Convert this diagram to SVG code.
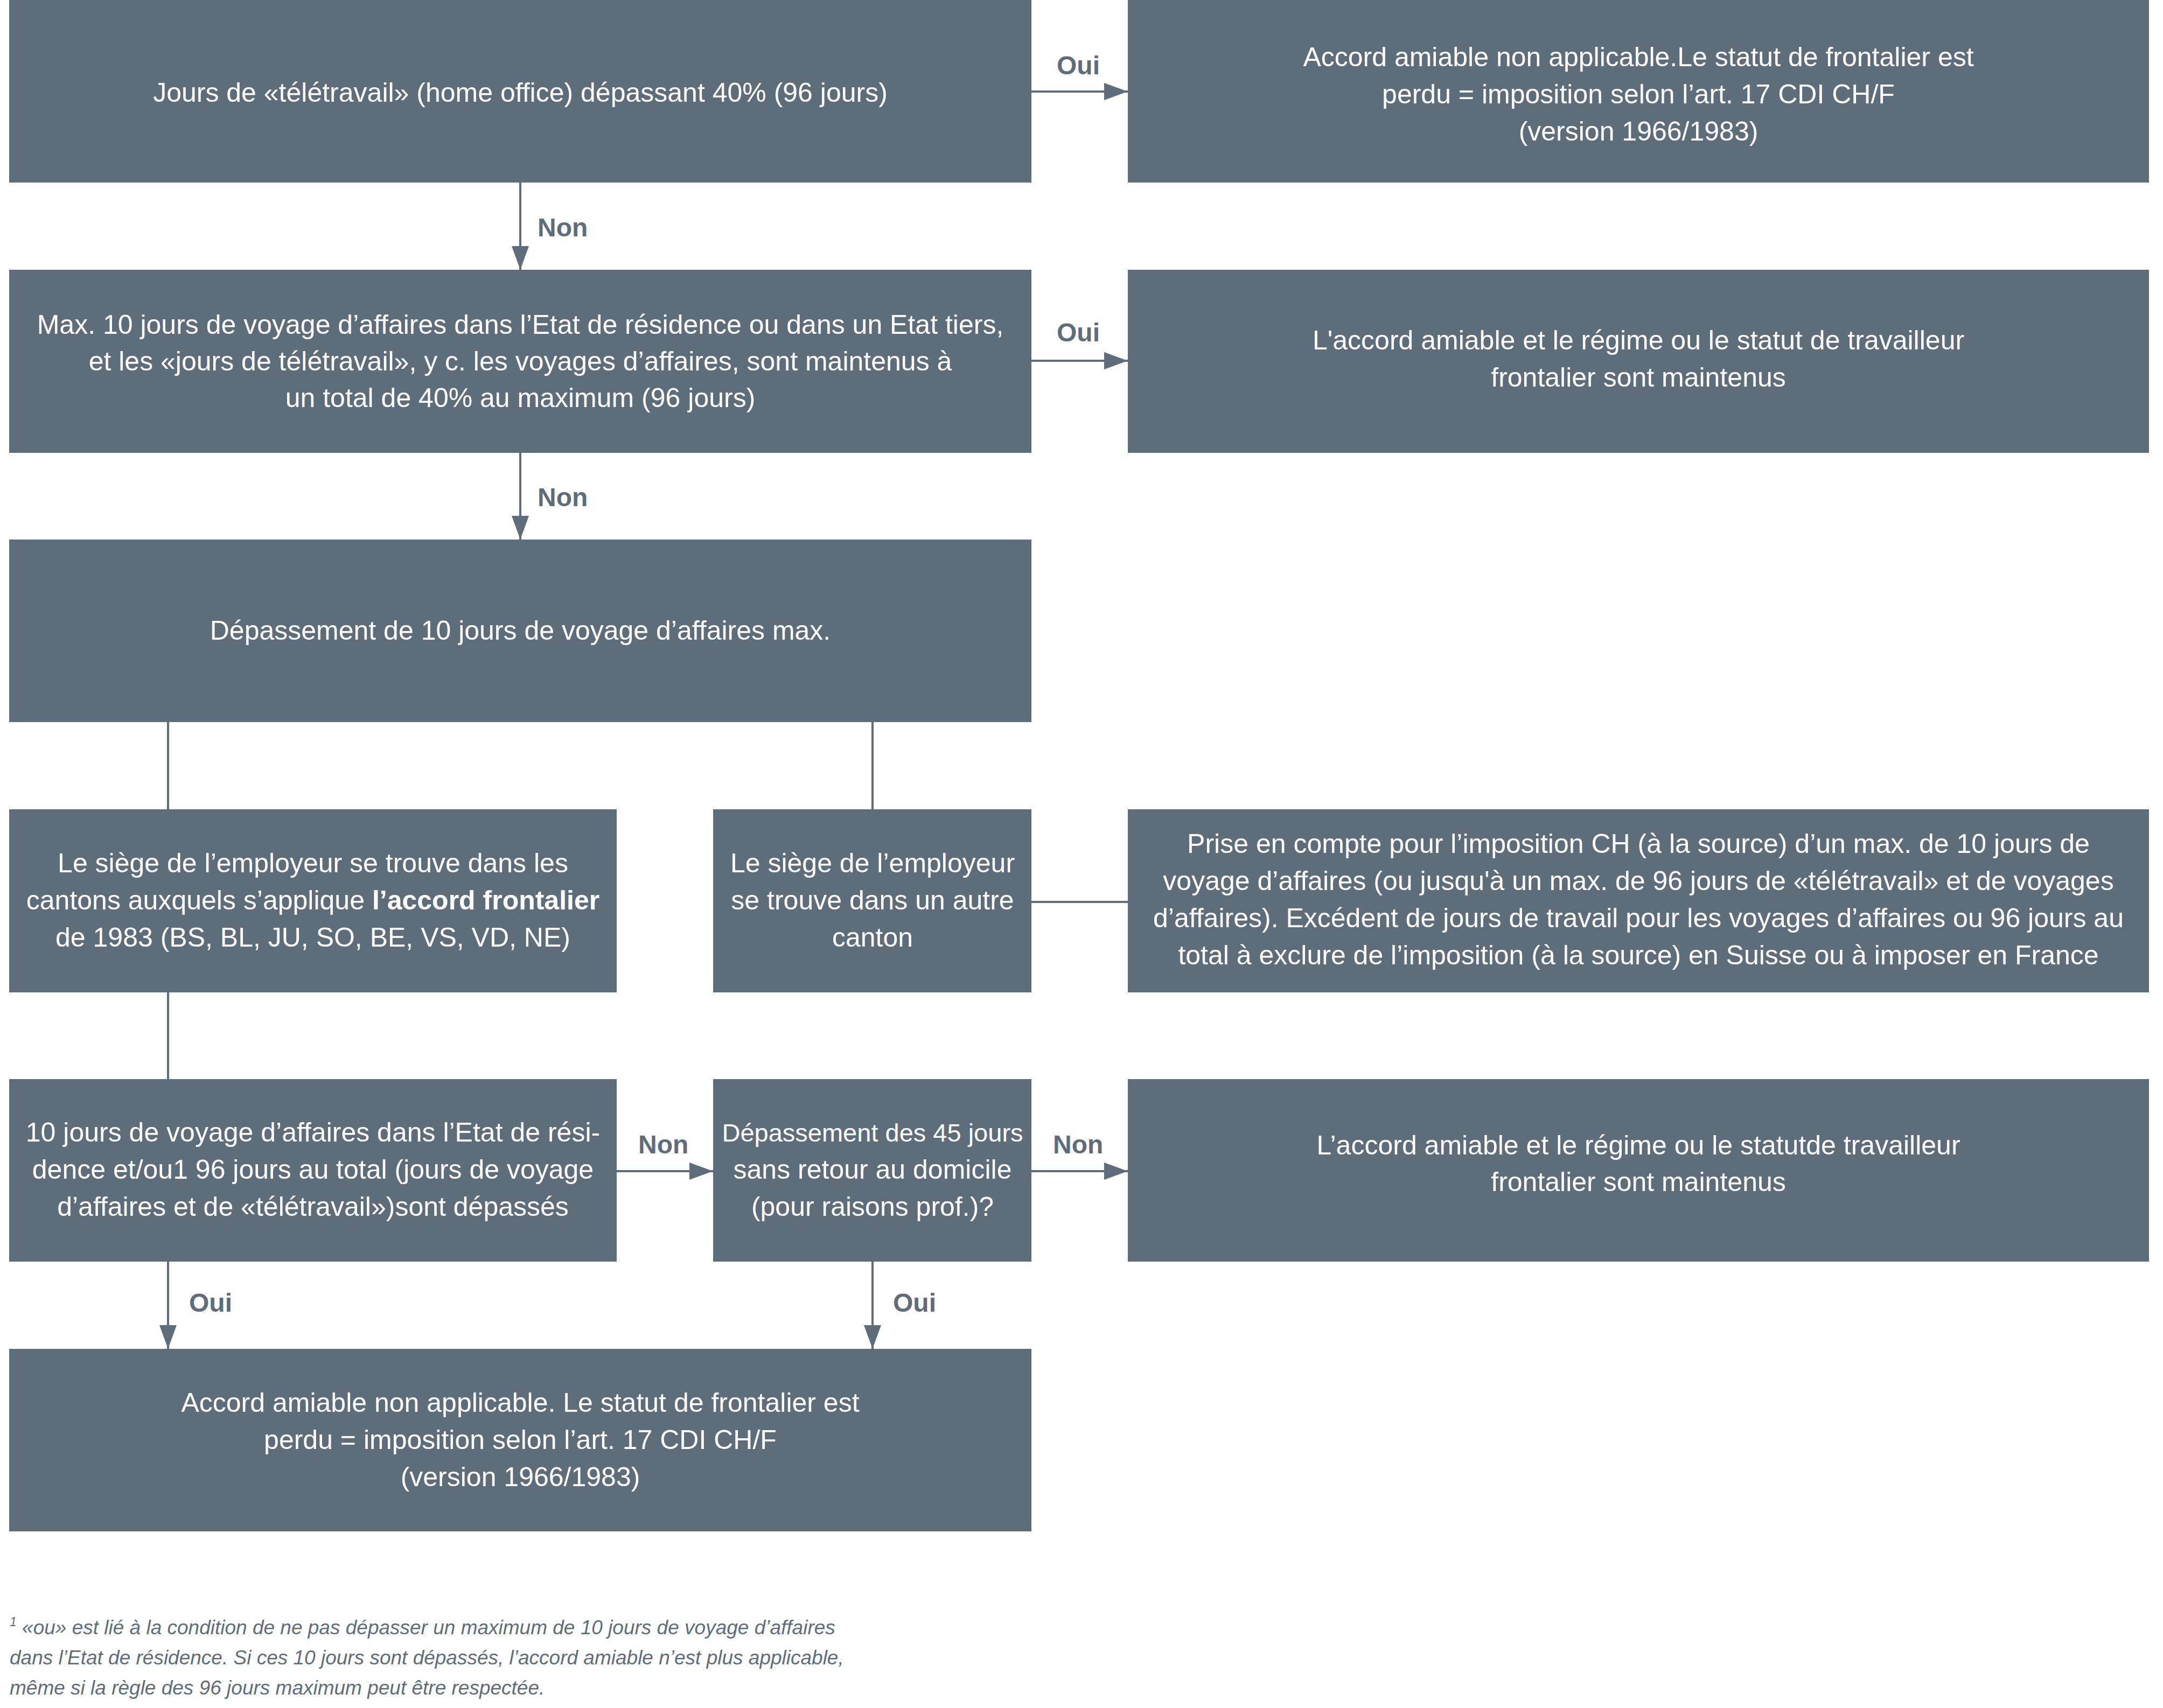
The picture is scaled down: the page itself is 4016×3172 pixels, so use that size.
<svg xmlns="http://www.w3.org/2000/svg" width="4016" height="3172" viewBox="0 0 4016 3172">
<style>
.box{fill:#5E6D7A}
.t{font-family:"Liberation Sans",Arial,sans-serif;font-size:50px;fill:#FFFFFF;text-anchor:middle}
.lbl{font-family:"Liberation Sans",Arial,sans-serif;font-size:48px;font-weight:bold;fill:#5E6D7A}
.ln{stroke:#5E6D7A;stroke-width:4;fill:none}
.fn{font-family:"Liberation Sans",Arial,sans-serif;font-size:37px;font-style:italic;fill:#5E6D7A}
</style>
<defs>
<marker id="ah" markerUnits="userSpaceOnUse" markerWidth="46" markerHeight="32" refX="44" refY="16" orient="auto">
<path d="M0,0 L44,16 L0,32 z" fill="#5E6D7A"/>
</marker>
</defs>
<rect width="4016" height="3172" fill="#FFFFFF"/>
<g id="connectors">
<line class="ln" x1="1915" y1="170" x2="2094" y2="170" marker-end="url(#ah)"/>
<line class="ln" x1="966" y1="339" x2="966" y2="501" marker-end="url(#ah)"/>
<line class="ln" x1="1915" y1="670" x2="2094" y2="670" marker-end="url(#ah)"/>
<line class="ln" x1="966" y1="841" x2="966" y2="1002" marker-end="url(#ah)"/>
<line class="ln" x1="312" y1="1341" x2="312" y2="1503"/>
<line class="ln" x1="1620" y1="1341" x2="1620" y2="1503"/>
<line class="ln" x1="1915" y1="1675" x2="2094" y2="1675"/>
<line class="ln" x1="312" y1="1843" x2="312" y2="2004"/>
<line class="ln" x1="1145" y1="2175" x2="1324" y2="2175" marker-end="url(#ah)"/>
<line class="ln" x1="1915" y1="2175" x2="2094" y2="2175" marker-end="url(#ah)"/>
<line class="ln" x1="312" y1="2343" x2="312" y2="2505" marker-end="url(#ah)"/>
<line class="ln" x1="1620" y1="2343" x2="1620" y2="2505" marker-end="url(#ah)"/>
<text class="lbl" x="1962" y="138">Oui</text>
<text class="lbl" x="998" y="439">Non</text>
<text class="lbl" x="1962" y="634">Oui</text>
<text class="lbl" x="998" y="940">Non</text>
<text class="lbl" x="1185" y="2142">Non</text>
<text class="lbl" x="1955" y="2142">Non</text>
<text class="lbl" x="351" y="2436">Oui</text>
<text class="lbl" x="1658" y="2436">Oui</text>
</g>
<g id="n1">
<rect class="box" x="17" y="0" width="1898" height="339"/>
<text class="t" x="966" y="189">Jours de «télétravail» (home office) dépassant 40% (96 jours)</text>
</g>
<g id="n2">
<rect class="box" x="2094" y="0" width="1896" height="339"/>
<text class="t" x="3042" y="123">Accord amiable non applicable.Le statut de frontalier est</text>
<text class="t" x="3042" y="192">perdu = imposition selon l’art. 17 CDI CH/F</text>
<text class="t" x="3042" y="261">(version 1966/1983)</text>
</g>
<g id="n3">
<rect class="box" x="17" y="501" width="1898" height="340"/>
<text class="t" x="966" y="620">Max. 10 jours de voyage d’affaires dans l’Etat de résidence ou dans un Etat tiers,</text>
<text class="t" x="966" y="688">et les «jours de télétravail», y c. les voyages d’affaires, sont maintenus à</text>
<text class="t" x="966" y="756">un total de 40% au maximum (96 jours)</text>
</g>
<g id="n4">
<rect class="box" x="2094" y="501" width="1896" height="340"/>
<text class="t" x="3042" y="649">L'accord amiable et le régime ou le statut de travailleur</text>
<text class="t" x="3042" y="718">frontalier sont maintenus</text>
</g>
<g id="n5">
<rect class="box" x="17" y="1002" width="1898" height="339"/>
<text class="t" x="966" y="1188">Dépassement de 10 jours de voyage d’affaires max.</text>
</g>
<g id="n6">
<rect class="box" x="17" y="1503" width="1128" height="340"/>
<text class="t" x="581" y="1620">Le siège de l’employeur se trouve dans les</text>
<text class="t" x="581" y="1689">cantons auxquels s’applique <tspan font-weight="bold">l’accord frontalier</tspan></text>
<text class="t" x="581" y="1758">de 1983 (BS, BL, JU, SO, BE, VS, VD, NE)</text>
</g>
<g id="n7">
<rect class="box" x="1324" y="1503" width="591" height="340"/>
<text class="t" x="1620" y="1620">Le siège de l’employeur</text>
<text class="t" x="1620" y="1689">se trouve dans un autre</text>
<text class="t" x="1620" y="1758">canton</text>
</g>
<g id="n8">
<rect class="box" x="2094" y="1503" width="1896" height="340"/>
<text class="t" x="3042" y="1584">Prise en compte pour l’imposition CH (à la source) d’un max. de 10 jours de</text>
<text class="t" x="3042" y="1653">voyage d’affaires (ou jusqu'à un max. de 96 jours de «télétravail» et de voyages</text>
<text class="t" x="3042" y="1722">d’affaires). Excédent de jours de travail pour les voyages d’affaires ou 96 jours au</text>
<text class="t" x="3042" y="1791">total à exclure de l’imposition (à la source) en Suisse ou à imposer en France</text>
</g>
<g id="n9">
<rect class="box" x="17" y="2004" width="1128" height="339"/>
<text class="t" x="581" y="2120">10 jours de voyage d’affaires dans l’Etat de rési-</text>
<text class="t" x="581" y="2189">dence et/ou1 96 jours au total (jours de voyage</text>
<text class="t" x="581" y="2258">d’affaires et de «télétravail»)sont dépassés</text>
</g>
<g id="n10">
<rect class="box" x="1324" y="2004" width="591" height="339"/>
<text class="t" x="1620" y="2120" style="font-size:47px">Dépassement des 45 jours</text>
<text class="t" x="1620" y="2189">sans retour au domicile</text>
<text class="t" x="1620" y="2258">(pour raisons prof.)?</text>
</g>
<g id="n11">
<rect class="box" x="2094" y="2004" width="1896" height="339"/>
<text class="t" x="3042" y="2144">L’accord amiable et le régime ou le statutde travailleur</text>
<text class="t" x="3042" y="2212">frontalier sont maintenus</text>
</g>
<g id="n12">
<rect class="box" x="17" y="2505" width="1898" height="339"/>
<text class="t" x="966" y="2622">Accord amiable non applicable. Le statut de frontalier est</text>
<text class="t" x="966" y="2691">perdu = imposition selon l’art. 17 CDI CH/F</text>
<text class="t" x="966" y="2760">(version 1966/1983)</text>
</g>
<g id="footnote">
<text class="fn" x="18" y="3035"><tspan font-size="23" dy="-15">1</tspan><tspan dy="15"> «ou» est lié à la condition de ne pas dépasser un maximum de 10 jours de voyage d’affaires</tspan></text>
<text class="fn" x="18" y="3091">dans l’Etat de résidence. Si ces 10 jours sont dépassés, l’accord amiable n’est plus applicable,</text>
<text class="fn" x="18" y="3147">même si la règle des 96 jours maximum peut être respectée.</text>
</g>
</svg>
